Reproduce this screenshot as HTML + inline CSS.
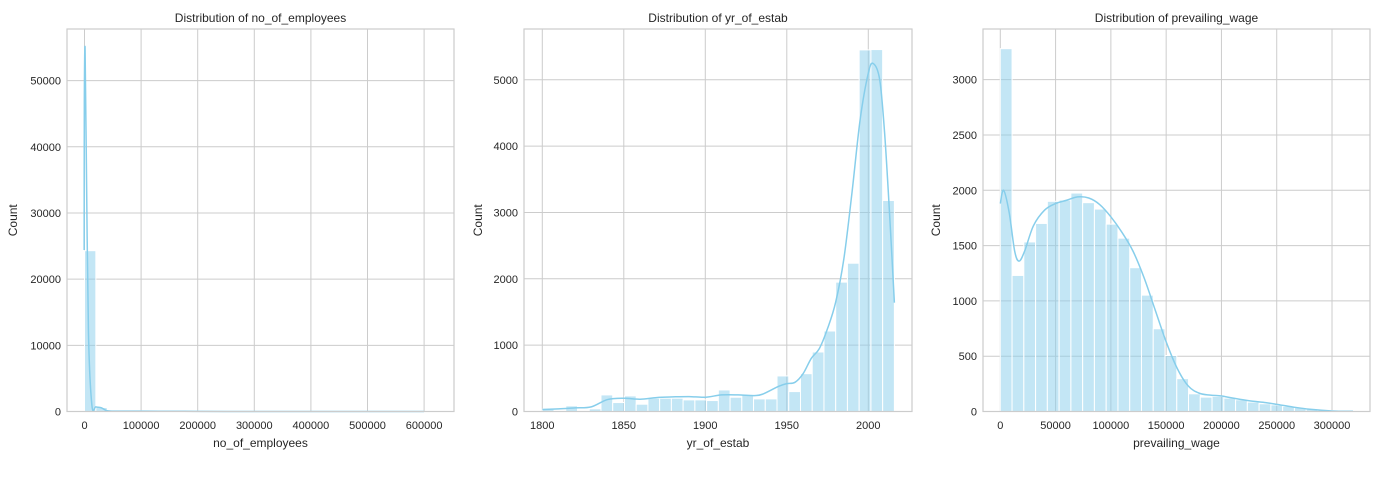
<!DOCTYPE html>
<html><head><meta charset="utf-8"><style>
html,body{margin:0;padding:0;background:#fff;}
svg{display:block;font-family:"Liberation Sans",Arial,sans-serif;}
</style></head><body>
<svg id="fig" width="1387" height="485"></svg>
<script>
// ---- Panel 1: no_of_employees ----
const empBins = [24300, 600, 150, 120, 100, 80, 60, 50, 40, 30, 25, 20, 15, 12, 10, 8, 6, 5, 4, 3, 3, 2, 2, 2, 1, 1, 1, 1, 1, 2];
const empKdeX = [-600, -300, 1000, 3000, 7000, 13000, 20000, 30000, 40000, 60000, 100000, 150000, 200000, 250000, 600000];
const empKdeY = [24400, 46600, 55000, 40000, 12000, 1000, 700, 550, 120, 60, 50, 40, 20, 0, 0];
const empXTicks = [0, 100000, 200000, 300000, 400000, 500000, 600000];
const empYTicks = [0, 10000, 20000, 30000, 40000, 50000];
// ---- Panel 2: yr_of_estab ----
const yrBins = [35, 15, 85, 10, 40, 250, 135, 235, 110, 200, 200, 200, 175, 175, 165, 325, 215, 250, 190, 190, 536, 300, 570, 897, 1213, 1950, 2235, 5450, 5455, 3180];
const yrKdeX = [1800, 1810, 1820, 1830, 1840, 1850, 1860, 1870, 1880, 1890, 1900, 1910, 1920, 1930, 1935, 1945, 1950, 1955, 1960, 1965, 1970, 1975, 1980, 1985, 1990, 1995, 2000, 2003, 2007, 2010, 2013, 2016];
const yrKdeY = [30, 40, 55, 70, 180, 200, 185, 210, 220, 225, 215, 250, 250, 240, 260, 380, 420, 440, 570, 800, 950, 1250, 1650, 2300, 3300, 4400, 5100, 5245, 5000, 4200, 3000, 1640];
const yrXTicks = [1800, 1850, 1900, 1950, 2000];
const yrYTicks = [0, 1000, 2000, 3000, 4000, 5000];
// ---- Panel 3: prevailing_wage ----
const wageBins = [3280, 1230, 1533, 1700, 1900, 1912, 1975, 1888, 1830, 1694, 1567, 1300, 1052, 748, 506, 297, 160, 130, 136, 121, 106, 85, 70, 60, 45, 36, 24, 15, 9, 6];
const wageKdeX = [0, 3000, 8000, 13000, 17000, 22000, 30000, 40000, 50000, 60000, 70000, 80000, 90000, 100000, 110000, 120000, 130000, 140000, 150000, 160000, 170000, 180000, 190000, 200000, 210000, 225000, 240000, 250000, 265000, 280000, 300000, 319000];
const wageKdeY = [1880, 2000, 1800, 1450, 1360, 1450, 1680, 1820, 1880, 1910, 1940, 1930, 1870, 1760, 1620, 1450, 1210, 920, 630, 390, 230, 165, 148, 140, 122, 97, 80, 65, 40, 20, 5, 2];
const wageXTicks = [0, 50000, 100000, 150000, 200000, 250000, 300000];
const wageYTicks = [0, 500, 1000, 1500, 2000, 2500, 3000];

const NS = "http://www.w3.org/2000/svg";
const svg = document.getElementById("fig");
function mk(tag, attrs, parent) {
  const e = document.createElementNS(NS, tag);
  for (const k in attrs) e.setAttribute(k, attrs[k]);
  parent.appendChild(e);
  return e;
}
function smoothPath(pts) {
  let d = "M" + pts[0][0].toFixed(2) + "," + pts[0][1].toFixed(2);
  for (let i = 0; i < pts.length - 1; i++) {
    const p0 = pts[Math.max(0, i - 1)], p1 = pts[i], p2 = pts[i + 1], p3 = pts[Math.min(pts.length - 1, i + 2)];
    const c1x = p1[0] + (p2[0] - p0[0]) / 6, c1y = p1[1] + (p2[1] - p0[1]) / 6;
    const c2x = p2[0] - (p3[0] - p1[0]) / 6, c2y = p2[1] - (p3[1] - p1[1]) / 6;
    d += " C" + c1x.toFixed(2) + "," + c1y.toFixed(2) + " " + c2x.toFixed(2) + "," + c2y.toFixed(2) + " " + p2[0].toFixed(2) + "," + p2[1].toFixed(2);
  }
  return d;
}
function panel(cfg) {
  const g = mk("g", {}, svg);
  
  
  const L = cfg.left, R = cfg.right, T = 29, B = 411.5;
  const xs = v => cfg.x0px + (v - cfg.x0) * cfg.xk;
  const ys = v => B - v * (B - T) / cfg.ymax;
  cfg.yTicks.forEach(t => {
    const l = mk("line", {x1: L, x2: R, y1: ys(t), y2: ys(t), stroke: "#cccccc", "stroke-width": 1}, g);
    
    
    const tx = mk("text", {x: L - 6, y: ys(t) + 4, "text-anchor": "end", "font-size": 11, fill: "#262626"}, g);
    tx.textContent = t;
    
    
  });
  cfg.xTicks.forEach(t => {
    const l = mk("line", {x1: xs(t), x2: xs(t), y1: T, y2: B, stroke: "#cccccc", "stroke-width": 1}, g);
    
    
    const tx = mk("text", {x: xs(t), y: 429, "text-anchor": "middle", "font-size": 11, fill: "#262626"}, g);
    tx.textContent = t;
    
    
  });
  const n = cfg.bins.length, bw = (cfg.binMax - cfg.binMin) / n;
  cfg.bins.forEach((v, i) => {
    const x1 = xs(cfg.binMin + i * bw), x2 = xs(cfg.binMin + (i + 1) * bw);
    const r = mk("rect", {x: x1, y: ys(v), width: Math.max(0, x2 - x1), height: B - ys(v), fill: "#87ceeb", "fill-opacity": 0.5, stroke: "#ffffff", "stroke-width": 1}, g);
    
    
  });
  const pts = cfg.kx.map((x, i) => [xs(x), ys(cfg.ky[i])]);
  const p = mk("path", {d: smoothPath(pts), fill: "none", stroke: "#87ceeb", "stroke-width": 1.5, "stroke-linejoin": "round"}, g);
  
  
  const f = mk("rect", {x: L, y: T, width: R - L, height: B - T, fill: "none", stroke: "#cccccc", "stroke-width": 1.2}, g);
  
  
  const title = mk("text", {x: (L + R) / 2, y: 22, "text-anchor": "middle", "font-size": 12, fill: "#262626"}, g);
  title.textContent = cfg.title;
  
  
  const xl = mk("text", {x: (L + R) / 2, y: 447, "text-anchor": "middle", "font-size": 12, fill: "#262626"}, g);
  xl.textContent = cfg.xlabel;
  
  
  const yl = mk("text", {x: 0, y: 0, "text-anchor": "middle", "font-size": 12, fill: "#262626", transform: "translate(" + cfg.ylabX + "," + (T + B) / 2 + ") rotate(-90)"}, g);
  yl.textContent = "Count";
  
  
}
panel({name: "employees-panel", title: "Distribution of no_of_employees", xlabel: "no_of_employees",
  left: 67, right: 454, x0: 0, x0px: 84.5, xk: 0.000566, ymax: 57800, bins: empBins, binMin: 0, binMax: 602069,
  kx: empKdeX, ky: empKdeY, xTicks: empXTicks, yTicks: empYTicks, ylabX: 17});
panel({name: "year-panel", title: "Distribution of yr_of_estab", xlabel: "yr_of_estab",
  left: 524, right: 912, x0: 1800, x0px: 542.3, xk: 1.63, ymax: 5765, bins: yrBins, binMin: 1800, binMax: 2016,
  kx: yrKdeX, ky: yrKdeY, xTicks: yrXTicks, yTicks: yrYTicks, ylabX: 482});
panel({name: "wage-panel", title: "Distribution of prevailing_wage", xlabel: "prevailing_wage",
  left: 983, right: 1370, x0: 0, x0px: 1000.3, xk: 0.0011057, ymax: 3458, bins: wageBins, binMin: 0, binMax: 319200,
  kx: wageKdeX, ky: wageKdeY, xTicks: wageXTicks, yTicks: wageYTicks, ylabX: 940});
</script>
</body></html>
